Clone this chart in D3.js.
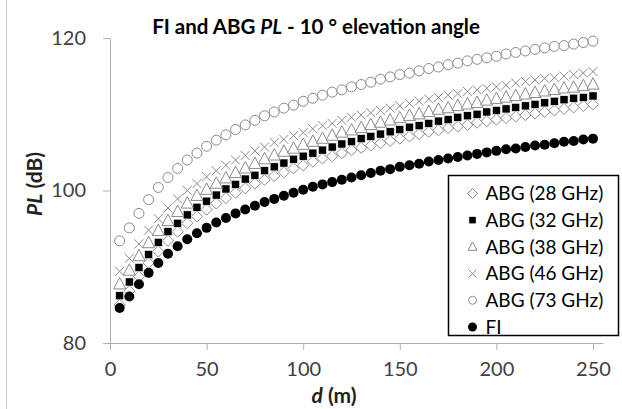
<!DOCTYPE html>
<html>
<head>
<meta charset="utf-8">
<script src="https://cdn.jsdelivr.net/npm/d3@7"></script>
<style>
  body { margin: 0; background: #fff; }
  svg { display: block; font-family: Lato, "Open Sans", sans-serif; }
</style>
</head>
<body>
<div id="chart"></div>
<script>
const distances = [5, 10, 15, 20, 25, 30, 35, 40, 45, 50, 55, 60, 65, 70, 75, 80, 85, 90, 95, 100,
  105, 110, 115, 120, 125, 130, 135, 140, 145, 150, 155, 160, 165, 170, 175, 180, 185, 190, 195, 200,
  205, 210, 215, 220, 225, 230, 235, 240, 245, 250]

const abg28 = [85.0, 86.8, 88.7, 90.5, 92.0, 93.4, 94.6, 95.7, 96.6, 97.5, 98.3, 99.0, 99.7, 100.3, 100.9, 101.4, 101.9, 102.4, 102.9, 103.3,
  103.8, 104.2, 104.5, 104.9, 105.3, 105.6, 105.9, 106.2, 106.5, 106.8, 107.1, 107.4, 107.7, 107.9, 108.2, 108.4, 108.6, 108.9, 109.1, 109.3,
  109.5, 109.7, 109.9, 110.1, 110.3, 110.5, 110.7, 110.9, 111.1, 111.3]
const abg32 = [86.2, 88.0, 89.9, 91.6, 93.2, 94.6, 95.7, 96.8, 97.8, 98.6, 99.4, 100.2, 100.8, 101.5, 102.0, 102.6, 103.1, 103.6, 104.1, 104.5,
  104.9, 105.3, 105.7, 106.1, 106.4, 106.8, 107.1, 107.4, 107.7, 108.0, 108.3, 108.5, 108.8, 109.1, 109.3, 109.6, 109.8, 110.0, 110.3, 110.5,
  110.7, 110.9, 111.1, 111.3, 111.5, 111.7, 111.9, 112.1, 112.2, 112.4]
const abg38 = [87.7, 89.5, 91.4, 93.1, 94.7, 96.0, 97.2, 98.3, 99.3, 100.1, 100.9, 101.6, 102.3, 102.9, 103.5, 104.1, 104.6, 105.1, 105.5, 106.0,
  106.4, 106.8, 107.2, 107.6, 107.9, 108.2, 108.6, 108.9, 109.2, 109.5, 109.8, 110.0, 110.3, 110.6, 110.8, 111.1, 111.3, 111.5, 111.8, 112.0,
  112.2, 112.4, 112.6, 112.8, 113.0, 113.2, 113.4, 113.5, 113.7, 113.9]
const abg46 = [89.4, 91.1, 93.0, 94.8, 96.3, 97.7, 98.9, 100.0, 100.9, 101.8, 102.6, 103.3, 104.0, 104.6, 105.2, 105.7, 106.3, 106.7, 107.2, 107.6,
  108.1, 108.5, 108.8, 109.2, 109.6, 109.9, 110.2, 110.5, 110.8, 111.1, 111.4, 111.7, 112.0, 112.2, 112.5, 112.7, 113.0, 113.2, 113.4, 113.6,
  113.8, 114.1, 114.3, 114.5, 114.7, 114.8, 115.0, 115.2, 115.4, 115.6]
const abg73 = [93.4, 95.1, 97.0, 98.8, 100.4, 101.7, 102.9, 104.0, 104.9, 105.8, 106.6, 107.3, 108.0, 108.6, 109.2, 109.8, 110.3, 110.8, 111.2, 111.7,
  112.1, 112.5, 112.9, 113.2, 113.6, 113.9, 114.2, 114.6, 114.9, 115.2, 115.4, 115.7, 116.0, 116.2, 116.5, 116.7, 117.0, 117.2, 117.4, 117.6,
  117.9, 118.1, 118.3, 118.5, 118.7, 118.9, 119.0, 119.2, 119.4, 119.6]
const fi = [84.6, 86.1, 87.7, 89.2, 90.5, 91.7, 92.7, 93.6, 94.4, 95.1, 95.8, 96.4, 97.0, 97.5, 98.0, 98.5, 98.9, 99.3, 99.7, 100.1,
  100.5, 100.8, 101.1, 101.4, 101.7, 102.0, 102.3, 102.6, 102.8, 103.1, 103.3, 103.5, 103.8, 104.0, 104.2, 104.4, 104.6, 104.8, 105.0, 105.2,
  105.4, 105.5, 105.7, 105.9, 106.0, 106.2, 106.4, 106.5, 106.7, 106.8]

const seriesNames = ["ABG (28 GHz)", "ABG (32 GHz)", "ABG (38 GHz)", "ABG (46 GHz)", "ABG (73 GHz)", "FI"]
const xTicks = [0, 50, 100, 150, 200, 250]
const yTicks = [80, 100, 120]

const width = 622
const height = 409
const gray = "#8a8a8a"
const axisColor = "#b0b0b0"

const svg = d3.select("#chart").append("svg")
  .attr("width", width)
  .attr("height", height)

// plot area frame (Excel-ish)
svg.append("line")
  .attr("x1", 6.5).attr("x2", 6.5)
  .attr("y1", 0).attr("y2", height)
  .attr("stroke", "#c8c8c8")

const x = d3.scaleLinear().domain([0, 250]).range([110, 593])
const y = d3.scaleLinear().domain([80, 120]).range([343, 38])

// axes
const xAxis = svg.append("g")
  .attr("transform", `translate(0,${y(80)})`)
  .call(d3.axisBottom(x).tickValues(xTicks).tickSize(7).tickPadding(12).tickSizeOuter(0))
xAxis.select(".domain").attr("stroke", axisColor).attr("d", `M${x(0) - 7},0.5H${x(255.5)}`)

const yAxis = svg.append("g")
  .attr("transform", `translate(${x(0)},0)`)
  .call(d3.axisLeft(y).tickValues(yTicks).tickSize(7).tickPadding(17).tickSizeOuter(0))
yAxis.select(".domain").attr("stroke", axisColor)

svg.selectAll(".tick line").attr("stroke", axisColor)
svg.selectAll(".tick text")
  .attr("font-family", "Lato, sans-serif")
  .attr("font-size", 20)
  .attr("fill", "#404040")

// titles
const title = svg.append("text")
  .attr("x", 316)
  .attr("y", 34)
  .attr("text-anchor", "middle")
  .attr("font-size", 20.5)
  .attr("font-weight", "bold")
title.append("tspan").text("FI and ABG ")
title.append("tspan").attr("font-style", "italic").text("PL")
title.append("tspan").text(" - 10 ° elevation angle")

const xTitle = svg.append("text")
  .attr("x", 334)
  .attr("y", 403)
  .attr("text-anchor", "middle")
  .attr("font-size", 21)
  .attr("font-weight", "bold")
  .attr("fill", "#222")
xTitle.append("tspan").attr("font-style", "italic").text("d")
xTitle.append("tspan").text(" (m)")

const yTitle = svg.append("text")
  .attr("transform", "translate(42,184) rotate(-90)")
  .attr("text-anchor", "middle")
  .attr("font-size", 21)
  .attr("font-weight", "bold")
  .attr("fill", "#222")
yTitle.append("tspan").attr("font-style", "italic").text("PL")
yTitle.append("tspan").text(" (dB)")

// marker painters
const markers = [
  (g, s) => g.append("path").attr("d", `M0,${-s * 0.62}L${s * 0.62},0L0,${s * 0.62}L${-s * 0.62},0Z`)
    .attr("fill", "#fff").attr("stroke", gray).attr("stroke-width", 1),
  (g, s) => g.append("rect").attr("x", -s * 0.45).attr("y", -s * 0.45).attr("width", s * 0.9).attr("height", s * 0.9)
    .attr("fill", "#000").attr("stroke", "#fff").attr("stroke-width", 0.6),
  (g, s) => g.append("path").attr("d", `M0,${-s * 0.62}L${s * 0.55},${s * 0.42}L${-s * 0.55},${s * 0.42}Z`)
    .attr("fill", "#fff").attr("stroke", gray).attr("stroke-width", 1),
  (g, s) => g.append("path").attr("d", `M${-s / 2},${-s / 2}L${s / 2},${s / 2}M${-s / 2},${s / 2}L${s / 2},${-s / 2}`)
    .attr("fill", "none").attr("stroke", gray).attr("stroke-width", 1),
  (g, s) => g.append("circle").attr("r", s / 2)
    .attr("fill", "#fff").attr("stroke", gray).attr("stroke-width", 1),
  (g, s) => g.append("circle").attr("r", s / 2)
    .attr("fill", "#000")
]

const allSeries = [abg28, abg32, abg38, abg46, abg73, fi]
const sizes = [9, 9, 11, 9, 10, 10]

allSeries.forEach((values, i) => {
  const grp = svg.append("g").attr("class", "series")
  grp.selectAll("g")
    .data(values)
    .join("g")
    .attr("transform", (v, j) => `translate(${x(distances[j])},${y(v)})`)
    .each(function () { markers[i](d3.select(this), sizes[i]) })
})

// legend
const legend = svg.append("g").attr("transform", "translate(448.5,175.5)")
legend.append("rect")
  .attr("width", 170)
  .attr("height", 160)
  .attr("fill", "#fff")
  .attr("stroke", "#000")
  .attr("stroke-width", 1.5)

const rows = legend.selectAll("g")
  .data(seriesNames)
  .join("g")
  .attr("transform", (d, i) => `translate(24,${18 + i * 26.7})`)

rows.each(function (d, i) { markers[i](d3.select(this), i === 5 ? 9 : 8) })

rows.append("text")
  .attr("x", 13)
  .attr("dy", "0.35em")
  .attr("font-size", 19)
  .attr("fill", "#000")
  .text(d => d)
</script>
</body>
</html>
